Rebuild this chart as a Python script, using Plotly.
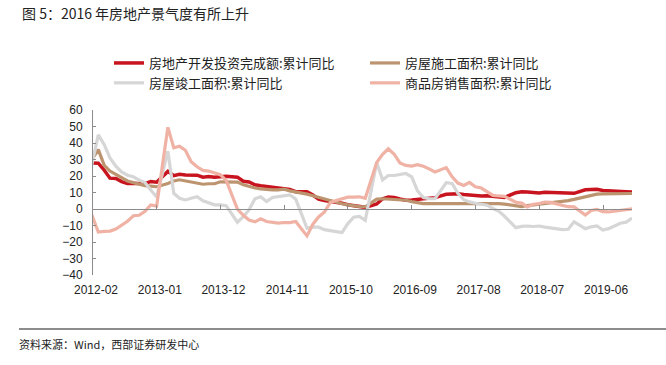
import pandas as pd
import plotly.graph_objects as go

# ---- categories (month-end dates, cumulative data: no January release) ----
dates = ["2011-12-31"] + [
    (pd.Timestamp(year=y, month=m, day=1) + pd.offsets.MonthEnd(0)).strftime("%Y-%m-%d")
    for y in range(2012, 2020) for m in range(2, 13) if not (y == 2019 and m > 10)
]

tick_labels = ["2012-02", "2013-01", "2013-12", "2014-11", "2015-10",
               "2016-09", "2017-08", "2018-07", "2019-06"]

# ---- series values (%) ----
invest = [27.9,
          27.8, 23.5, 18.7, 18.5, 16.6, 15.4, 15.6, 15.4, 15.4, 16.7, 16.2,
          22.8, 20.2, 21.1, 20.6, 20.3, 20.5, 19.3, 19.7, 19.2, 19.5, 19.8,
          19.3, 16.8, 16.4, 14.7, 14.1, 13.7, 13.2, 12.5, 12.4, 11.9, 10.5,
          10.4, 8.5, 6.0, 5.1, 4.6, 4.3, 3.5, 2.6, 2.0, 1.3, 1.0,
          3.0, 6.2, 7.2, 7.0, 6.1, 5.3, 5.4, 5.8, 6.6, 6.5, 6.9,
          8.9, 9.1, 9.3, 8.8, 8.5, 7.9, 7.9, 8.1, 7.8, 7.5, 7.0,
          9.9, 10.4, 10.3, 10.2, 9.7, 10.2, 10.1, 9.9, 9.7, 9.7, 9.5,
          11.6, 11.8, 11.9, 11.2, 10.9, 10.6, 10.5, 10.5, 10.3]

under_constr = [25.3,
                36.0, 26.5, 23.0, 21.0, 19.0, 17.0, 16.0, 15.0, 14.2, 13.9, 13.5,
                15.5, 17.0, 17.7, 17.0, 16.5, 15.8, 15.0, 15.3, 15.3, 16.5, 16.5,
                16.3, 14.7, 13.7, 12.7, 12.2, 11.8, 11.6, 11.6, 12.0, 11.0, 10.4,
                9.0, 8.0, 7.0, 6.0, 5.0, 4.0, 3.2, 2.5, 1.9, 1.5, 1.3,
                6.0, 6.2, 6.0, 5.8, 5.4, 5.3, 4.5, 3.7, 3.3, 3.2, 3.2,
                3.5, 3.5, 3.4, 3.4, 3.5, 3.5, 3.5, 3.5, 3.4, 3.3, 3.0,
                1.7, 1.5, 2.1, 2.5, 3.1, 3.7, 4.1, 4.3, 4.7, 5.1, 5.8,
                7.4, 8.4, 9.0, 9.2, 9.2, 9.4, 9.4, 9.4, 9.4]

completed = [13.3,
             45.0, 39.0, 31.0, 26.0, 22.5, 20.5, 19.5, 17.5, 16.0, 11.5, 7.3,
             35.0, 9.5, 6.5, 5.5, 6.5, 7.5, 5.0, 4.0, 2.5, 2.5, 2.0,
             -8.0, -4.6, -0.5, 6.2, 7.4, 4.5, 7.0, 7.6, 8.2, 8.6, 6.0,
             -11.6, -11.0, -11.0, -12.5, -13.3, -13.7, -14.3, -9.0, -5.0, -4.5, -6.9,
             28.0, 17.7, 20.3, 20.3, 20.8, 21.5, 19.5, 11.0, 7.0, 6.2, 6.2,
             16.0, 15.5, 9.5, 5.6, 4.3, 3.5, 2.8, 2.3, 0.3, -1.3, -4.4,
             -11.3, -10.5, -10.3, -10.6, -10.3, -11.0, -11.5, -12.0, -12.5, -12.3, -7.8,
             -11.9, -10.8, -10.3, -12.7, -11.9, -10.0, -8.6, -8.0, -5.5]

sales_area = [4.4,
              -14.0, -13.6, -13.4, -12.1, -10.0, -7.4, -4.1, -3.8, -1.4, 2.4, 1.8,
              49.5, 37.1, 38.0, 35.6, 28.7, 25.6, 23.4, 23.0, 21.8, 20.8, 17.3,
              -0.1, -3.8, -6.7, -7.8, -6.0, -7.6, -8.3, -8.6, -8.2, -8.2, -7.6,
              -16.3, -9.2, -4.8, -1.8, 3.9, 5.2, 6.1, 7.2, 7.2, 7.4, 6.5,
              28.2, 33.1, 36.5, 33.2, 27.9, 26.4, 26.0, 26.9, 25.9, 24.3, 22.5,
              25.1, 19.5, 15.7, 14.3, 16.1, 13.5, 12.7, 10.3, 8.2, 7.9, 7.7,
              4.1, 3.6, 1.3, 2.9, 3.3, 4.2, 4.0, 2.9, 2.2, 1.4, 1.3,
              -3.6, -0.9, -0.3, -1.6, -1.8, -1.3, -0.6, -0.1, 0.1]

series_names = ["房地产开发投资完成额:累计同比", "房屋施工面积:累计同比",
                "房屋竣工面积:累计同比", "商品房销售面积:累计同比"]
series_values = [invest, under_constr, completed, sales_area]
series_colors = ["#C8141E", "#BC9470", "#D6D6D6", "#EFB2A4"]
series_widths = [3.5, 3.2, 3.2, 3.2]

for v in series_values:
    assert len(v) == len(dates)

x_range = ["2012-02-01", "2019-10-31"]
tick_vals = [t + "-01" for t in tick_labels]

fig = go.Figure()
for name, vals, col, w in zip(series_names, series_values, series_colors, series_widths):
    fig.add_trace(go.Scatter(x=dates, y=vals, mode="lines", name=name,
                             line=dict(color=col, width=w), hoverinfo="skip"))
# carrier trace for the zero-line axis
fig.add_trace(go.Scatter(x=[dates[1]], y=[None], xaxis="x2", showlegend=False,
                         hoverinfo="skip", mode="lines"))

axis_font = dict(family="Liberation Sans, Arial", size=12, color="#222")

fig.update_layout(
    width=666, height=365,
    margin=dict(l=93, r=34, t=110, b=90),
    plot_bgcolor="white", paper_bgcolor="white",
    title=dict(text="图 5：2016 年房地产景气度有所上升", xref="container", yref="container",
               x=22 / 666, xanchor="left", y=1 - 14 / 365, yanchor="middle",
               font=dict(family="Noto Sans CJK SC", size=14, color="#222")),
    xaxis=dict(type="date", range=x_range, tickvals=tick_vals, ticktext=tick_labels,
               showline=False, ticks="", showgrid=False, zeroline=False,
               tickfont=axis_font, ticklabelstandoff=6, ticklabelshift=3),
    xaxis2=dict(type="date", range=x_range, overlaying="x", anchor="free", position=0.4,
                side="bottom", tickvals=tick_vals, showticklabels=False,
                showline=True, linecolor="#8C8C8C", linewidth=1,
                ticks="inside", ticklen=4, tickcolor="#8C8C8C", showgrid=False, zeroline=False),
    yaxis=dict(range=[-40, 60], dtick=10, showgrid=False, zeroline=False,
               showline=True, linecolor="#8C8C8C", linewidth=1,
               ticks="inside", ticklen=3, tickcolor="#8C8C8C",
               tickfont=axis_font, ticklabelstandoff=7),
    legend=dict(orientation="h", x=(109 - 93) / 539, xanchor="left",
                y=(275 - 48) / 165, yanchor="top",
                entrywidth=211, entrywidthmode="pixels",
                font=dict(family="Noto Sans CJK SC", size=13, color="#222"),
                bgcolor="rgba(0,0,0,0)", tracegroupgap=0),
    annotations=[dict(text="资料来源：Wind，西部证券研发中心", xref="paper", yref="paper",
                      x=(17 - 93) / 539, y=(275 - 344) / 165, xanchor="left", yanchor="middle",
                      showarrow=False, font=dict(family="Noto Sans CJK SC", size=11, color="#222"))],
    shapes=[dict(type="line", xref="paper", yref="paper",
                 x0=(19 - 93) / 539, x1=(666 - 93) / 539,
                 y0=(275 - 329) / 165, y1=(275 - 329) / 165,
                 line=dict(color="#8C8C8C", width=2))],
)

fig.write_html("out.html", config={"displayModeBar": False},
               post_script="document.body.style.margin='0';")
